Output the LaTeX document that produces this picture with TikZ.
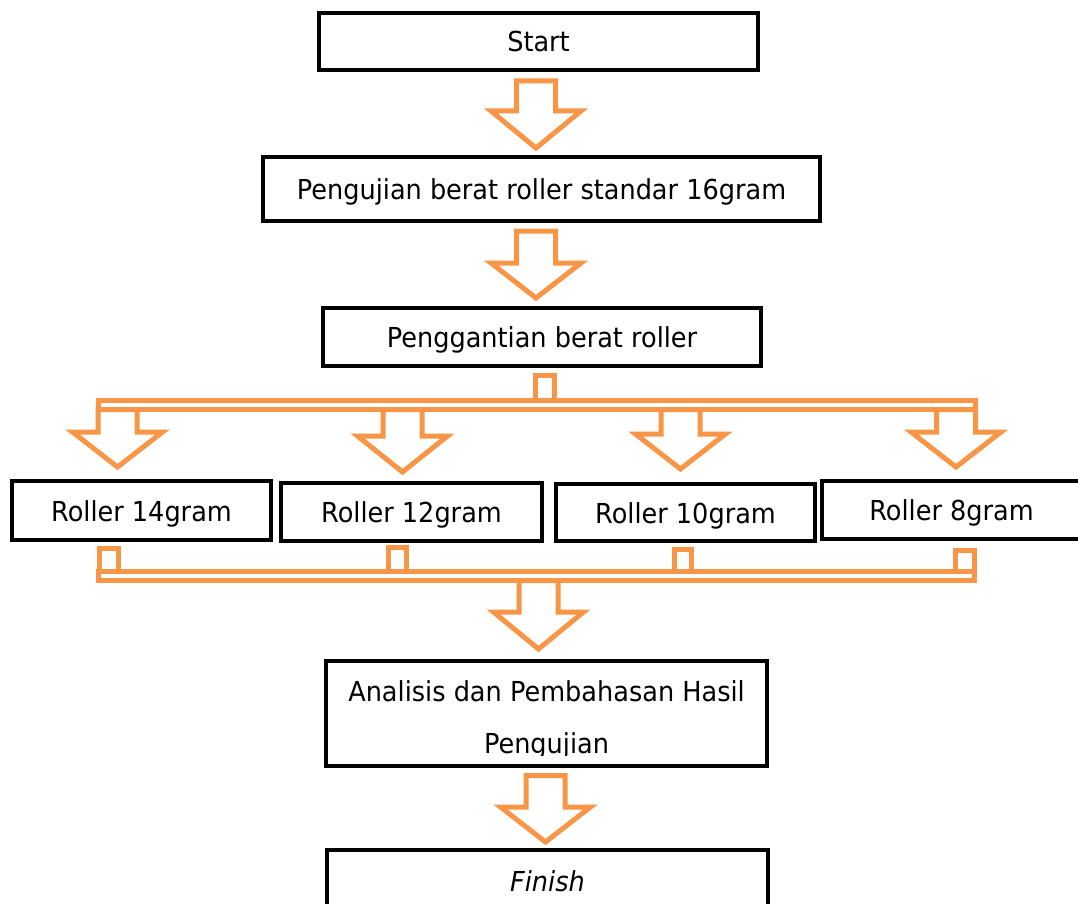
\documentclass[tikz,border=0pt]{standalone}
\usepackage{fontspec}
\setmainfont{DejaVu Sans}[FakeStretch=0.93,ItalicFont={DejaVu Sans Oblique}]
\definecolor{orng}{HTML}{F79646}
\tikzset{
  box/.style={draw=black, line width=4.4pt, inner sep=0pt, text height=21pt, text depth=0pt,
    font=\fontsize{27.5pt}{33pt}\selectfont},
  txt/.style={inner sep=0pt, anchor=base, font=\fontsize{27.5pt}{33pt}\selectfont},
  oline/.style={draw=orng, line width=5pt, line join=miter},
}
\newcommand\blockarrow[4]{%
  \draw[oline] (#1-19.5,#2) -- (#1+19.5,#2) -- (#1+19.5,#3) -- (#1+45,#3) -- (#1,#4)
    -- (#1-45,#3) -- (#1-19.5,#3) -- cycle;}
\begin{document}
\begin{tikzpicture}[x=1pt,y=-1pt]
\clip (0,0) rectangle (1078,904);
\fill[white] (0,0) rectangle (1078,904);

% boxes
\node[box, minimum width=439pt, minimum height=57pt] (start) at (538.5,41.5) {Start};
\node[box, minimum width=557pt, minimum height=64pt] (test) at (541.5,189) {Pengujian berat roller standar 16gram};
\node[box, minimum width=438pt, minimum height=58pt] (change) at (542,337) {Penggantian berat roller};
\node[box, minimum width=259pt, minimum height=59pt] (r1) at (141.5,510.5) {Roller 14gram};
\node[box, minimum width=261pt, minimum height=58pt] (r2) at (411.5,512) {Roller 12gram};
\node[box, minimum width=259pt, minimum height=57pt] (r3) at (685.5,512.5) {Roller 10gram};
\node[box, minimum width=259pt, minimum height=58pt] (r4) at (951.5,510) {Roller 8gram};
\node[box, minimum width=441pt, minimum height=105pt] (anl) at (546.5,713.5) {};
\begin{scope}
  \clip (328,663) rectangle (765,755.5);
  \node[txt] (anlA) at (546.5,701) {Analisis dan Pembahasan Hasil};
  \node[txt] (anlB) at (546.5,753) {Pengujian};
\end{scope}
\node[box, minimum width=441pt, minimum height=62pt] (fin) at (547.5,881) {\itshape Finish};

% arrows between single boxes
\blockarrow{536}{81}{111}{148}
\blockarrow{536}{231}{263}{298}

% splitter
\draw[oline] (535,375.5) rectangle (554,400.5);
\draw[oline] (98.5,400.5) rectangle (975.5,409.5);
\blockarrow{117.5}{409.5}{432}{467}
\blockarrow{402.5}{409.5}{436}{472}
\blockarrow{680.5}{409.5}{434}{469}
\blockarrow{956}{409.5}{432}{467}

% collector
\draw[oline] (99.5,548.5) rectangle (118.5,571.5);
\draw[oline] (388.5,547.5) rectangle (406.5,571.5);
\draw[oline] (674.5,549.5) rectangle (691.5,571.5);
\draw[oline] (955.5,550.5) rectangle (974.5,571.5);
\draw[oline] (98.5,571.5) rectangle (974.5,580.5);
\blockarrow{538.5}{580.5}{612}{649}

\blockarrow{545.5}{775.5}{807}{842}
\end{tikzpicture}
\end{document}
